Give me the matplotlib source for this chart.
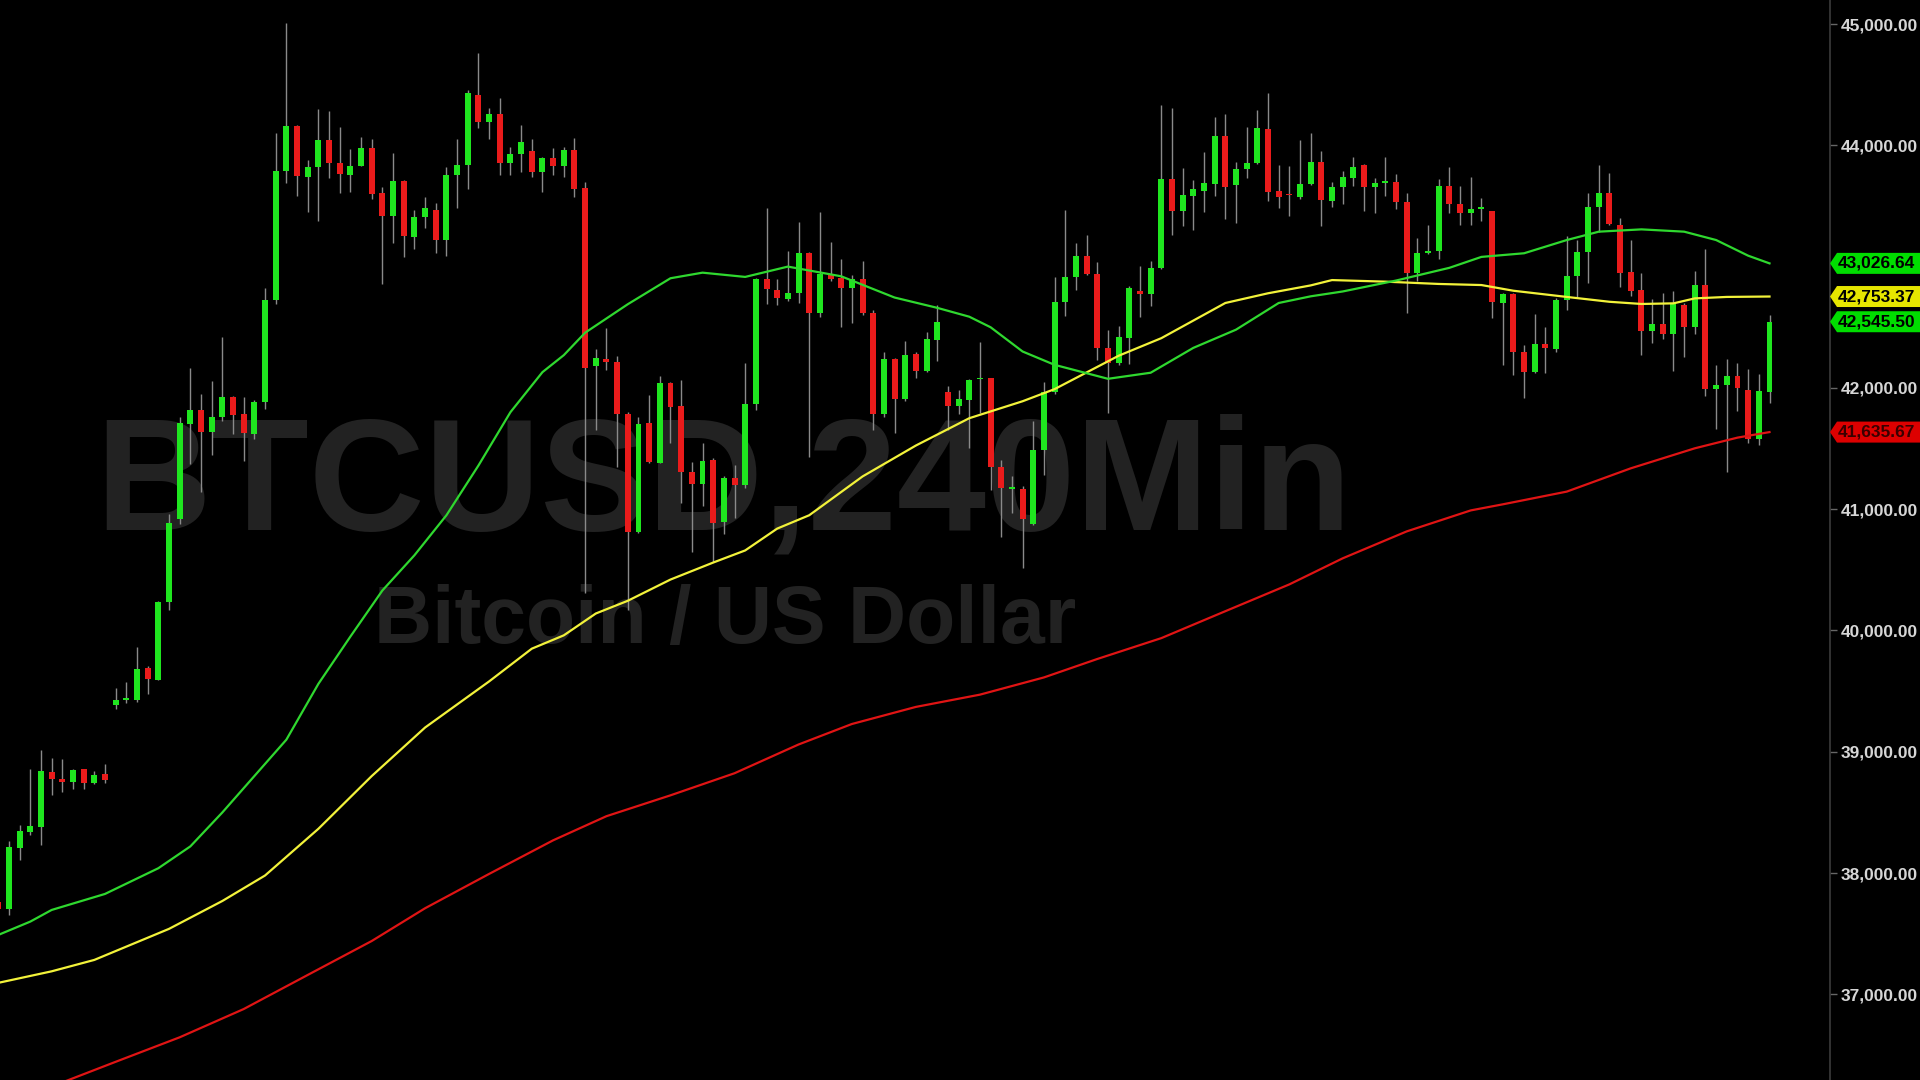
import numpy as np
import matplotlib
matplotlib.use("Agg")
import matplotlib.pyplot as plt
from matplotlib.patches import Polygon
from matplotlib.transforms import blended_transform_factory

# ---------------- data ----------------
first_index = -1  # first (partially visible) candle
opens = [37760, 37702, 38205, 38339, 38383, 38836, 38778, 38751, 38856, 38745,
         38815, 39385, 39430, 39430, 39688, 39592, 40232, 40923, 41705, 41820,
         41640, 41763, 41927, 41787, 41623, 41885, 42725, 43786, 44159, 43741,
         43824, 44044, 43857, 43753, 43832, 43975, 43604, 43417, 43706, 43247,
         43412, 43467, 43219, 43755, 43838, 44415, 44195, 44256, 43857, 43926,
         43953, 43778, 43893, 43832, 43964, 43646, 42183, 42238, 42211, 41782,
         40815, 41708, 41383, 42038, 41853, 41309, 41208, 41406, 40897, 41255,
         41200, 41867, 42898, 42807, 42730, 42780, 43115, 42620, 42936, 42909,
         42824, 42895, 42620, 41782, 42238, 41906, 42279, 42142, 42395, 41969,
         41853, 41900, 42070, 42079, 41350, 41165, 41164, 40878, 41488, 41969,
         42711, 42917, 43087, 42939, 42326, 42208, 42409, 42801, 42775, 42986,
         43722, 43461, 43585, 43623, 43681, 44077, 43670, 43805, 43857, 44134,
         43626, 43590, 43576, 43681, 43860, 43543, 43659, 43733, 43838, 43659,
         43690, 43695, 43535, 42950, 43110, 43129, 43664, 43516, 43439, 43478,
         43458, 42702, 42772, 42300, 42129, 42362, 42318, 42725, 42925, 43118,
         43489, 43604, 43343, 42953, 42807, 42469, 42527, 42442, 42684, 42505,
         42848, 41988, 42024, 42098, 41983, 41576, 41969]
highs = [37790, 38267, 38400, 38858, 39015, 38951, 38941, 38860, 38860, 38842,
         38899, 39524, 39573, 39864, 39710, 40245, 40959, 41763, 42164, 41953,
         42057, 42416, 41935, 41927, 41900, 42824, 44104, 45005, 44165, 43879,
         44297, 44280, 44154, 43967, 44066, 44054, 43659, 43939, 43710, 43463,
         43571, 43527, 43824, 44049, 44453, 44763, 44306, 44393, 43983, 44165,
         44049, 43900, 43975, 43985, 44058, 43700, 42318, 42491, 42265, 41800,
         41763, 41941, 42098, 42045, 42065, 41392, 41549, 41420, 41270, 41364,
         42203, 42910, 43481, 42895, 43129, 43370, 43120, 43448, 43205, 43060,
         42930, 43049, 42640, 42297, 42250, 42389, 42300, 42459, 42683, 42015,
         41983, 42070, 42381, 42085, 41406, 41274, 41191, 41730, 42051, 42912,
         43467, 43192, 43261, 43041, 42477, 42510, 42840, 43008, 43050, 44332,
         44305, 43810, 43714, 43947, 44231, 44258, 43865, 44148, 44288, 44429,
         43838, 43829, 44044, 44099, 43956, 43700, 43791, 43901, 43845, 43730,
         43906, 43760, 43604, 43233, 43343, 43720, 43824, 43664, 43742, 43563,
         43460, 42780, 42785, 42354, 42607, 42505, 42740, 43252, 43219, 43609,
         43838, 43774, 43398, 43219, 42950, 42730, 42780, 42801, 42700, 42966,
         43145, 42189, 42236, 42208, 42153, 42115, 42601]
lows = [37650, 37654, 38108, 38315, 38232, 38641, 38671, 38693, 38690, 38735,
        38740, 39353, 39400, 39407, 39477, 39590, 40167, 40878, 41373, 41144,
        41446, 41729, 41623, 41399, 41581, 41829, 42692, 43687, 43582, 43453,
        43376, 43733, 43607, 43618, 43830, 43555, 42854, 43197, 43077, 43143,
        43316, 43115, 43090, 43481, 43637, 44140, 44049, 43755, 43755, 43782,
        43741, 43618, 43755, 43740, 43571, 40307, 41653, 42150, 41345, 40169,
        40800, 41380, 41380, 41549, 41054, 40645, 41029, 40567, 40793, 40925,
        41176, 41818, 42689, 42685, 42720, 42700, 41433, 42587, 42880, 42505,
        42533, 42600, 41653, 41760, 41631, 41890, 42079, 42130, 42222, 41653,
        41782, 41507, 41793, 41158, 40773, 40966, 40518, 40870, 41282, 41950,
        42593, 42807, 42930, 42230, 41791, 42190, 42194, 42582, 42675, 42980,
        43261, 43337, 43302, 43453, 43582, 43390, 43362, 43728, 43850, 43543,
        43481, 43417, 43560, 43675, 43337, 43491, 43516, 43664, 43458, 43439,
        43582, 43472, 42620, 42884, 43100, 43060, 43439, 43343, 43340, 43376,
        42574, 42189, 42106, 41914, 42120, 42120, 42300, 42642, 42752, 42867,
        43288, 43340, 42829, 42758, 42271, 42373, 42400, 42142, 42252, 42442,
        41933, 41659, 41309, 41812, 41549, 41529, 41873]
closes = [37700, 38218, 38347, 38388, 38845, 38778, 38751, 38850, 38740, 38809,
          38768, 39430, 39433, 39684, 39596, 40238, 40890, 41708, 41820, 41640,
          41763, 41927, 41780, 41627, 41885, 42725, 43785, 44162, 43747, 43824,
          44044, 43852, 43761, 43830, 43978, 43599, 43417, 43706, 43255, 43412,
          43481, 43219, 43755, 43838, 44429, 44195, 44256, 43852, 43928, 44027,
          43782, 43893, 43832, 43964, 43640, 42167, 42244, 42216, 41782, 40815,
          41700, 41387, 42038, 41845, 41304, 41205, 41397, 40889, 41255, 41200,
          41867, 42898, 42813, 42739, 42780, 43110, 42620, 42936, 42895, 42821,
          42895, 42620, 41782, 42238, 41906, 42271, 42142, 42401, 42541, 41853,
          41906, 42065, 42072, 41345, 41172, 41169, 40917, 41488, 41969, 42706,
          42912, 43087, 42939, 42326, 42203, 42417, 42821, 42772, 42986, 43722,
          43458, 43590, 43640, 43687, 44077, 43659, 43802, 43857, 44140, 43618,
          43576, 43588, 43681, 43860, 43549, 43654, 43737, 43818, 43659, 43687,
          43695, 43535, 42950, 43110, 43131, 43664, 43516, 43439, 43472, 43481,
          42711, 42772, 42300, 42135, 42359, 42331, 42725, 42925, 43123, 43489,
          43604, 43351, 42945, 42801, 42469, 42527, 42444, 42692, 42505, 42848,
          41988, 42024, 42098, 41997, 41576, 41975, 42545.50]

# moving averages (at candle positions)
ma_green_x = [-1, 2, 4, 9, 14, 17, 20, 23, 26, 29, 32, 35, 38, 41, 44, 47, 50, 52, 54,
              58, 62, 65, 69, 73, 78, 83, 87, 90, 92, 95, 98, 103, 107, 111, 115,
              119, 122, 125, 130, 135, 138, 142, 146, 149, 153, 157, 160, 163, 165]
ma_green_y = [37490, 37600, 37696, 37828, 38040, 38220, 38500, 38800, 39100, 39560,
              39950, 40330, 40620, 40950, 41360, 41800, 42130, 42270, 42455, 42690,
              42904, 42950, 42915, 43000, 42920, 42745, 42660, 42587, 42500, 42300,
              42190, 42075, 42125, 42330, 42480, 42700, 42755, 42795, 42885, 42990,
              43080, 43110, 43219, 43288, 43307, 43288, 43219, 43090, 43026.64]
ma_yellow_x = [-1, 4, 8, 15, 20, 24, 29, 34, 39, 45, 49, 52, 55, 58, 62, 66, 69, 72,
               75, 80, 85, 90, 95, 98, 104, 108, 114, 118, 122, 124, 129, 134, 138,
               141, 146, 150, 153, 156, 158, 161, 165]
ma_yellow_y = [37095, 37190, 37284, 37540, 37770, 37980, 38365, 38800, 39200, 39580,
               39850, 39960, 40140, 40245, 40420, 40560, 40660, 40840, 40950, 41270,
               41525, 41750, 41890, 41990, 42265, 42410, 42700, 42780, 42845, 42889,
               42876, 42857, 42848, 42801, 42750, 42710, 42692, 42697, 42738, 42750,
               42753.37]
ma_red_x = [4, 10, 16, 22, 28, 34, 39, 45, 51, 56, 62, 68, 74, 79, 85, 91, 97, 102,
            108, 114, 120, 125, 131, 137, 140, 146, 152, 158, 162, 165]
ma_red_y = [36240, 36444, 36646, 36879, 37160, 37440, 37710, 37993, 38270, 38469,
            38641, 38823, 39060, 39229, 39370, 39471, 39613, 39765, 39937, 40159,
            40380, 40595, 40817, 40990, 41040, 41145, 41337, 41502, 41590, 41635.67]

price_ticks = [37000, 38000, 39000, 40000, 41000, 42000, 44000, 45000]
badge_values = [43026.64, 42753.37, 42545.50, 41635.67]
badge_fill = ["#00dd00", "#e6e600", "#00dd00", "#dd0000"]
badge_text_color = ["#000000", "#000000", "#000000", "#3a0000"]
title_text = "BTCUSD,240Min"
subtitle_text = "Bitcoin / US Dollar"

# ---------------- figure ----------------
plt.rcParams["font.family"] = ["Liberation Sans", "DejaVu Sans"]
W, H = 1920, 1080
fig = plt.figure(figsize=(W / 100, H / 100), dpi=100, facecolor="black")
axis_px = 1830
ax = fig.add_axes([0, 0, axis_px / W, 1])
ax.set_facecolor("black")

ymin, ymax = 36294, 45198
ax.set_xlim(-0.84, 170.67)
ax.set_ylim(ymin, ymax)

# watermark
ax.text(724 / W, 1 - 529 / H, title_text, transform=fig.transFigure, fontsize=115.5,
        fontweight="bold", color="#222222", ha="center", va="baseline", zorder=0)
ax.text(725 / W, 1 - 643 / H, subtitle_text, transform=fig.transFigure, fontsize=58,
        fontweight="bold", color="#222222", ha="center", va="baseline", zorder=0)

# candles
o = np.array(opens, float)
h = np.array(highs, float)
l = np.array(lows, float)
c = np.array(closes, float)
x = np.arange(first_index, first_index + len(o))
up = c >= o
ax.vlines(x, l, h, color="#8a8a8a", lw=1.0, zorder=2)
body_bottom = np.minimum(o, c)
body_h = np.maximum(np.abs(c - o), 14)
ax.bar(x[up], body_h[up], bottom=body_bottom[up], width=0.56, color="#1fe61f",
       edgecolor="none", zorder=3)
ax.bar(x[~up], body_h[~up], bottom=body_bottom[~up], width=0.56, color="#ea1b1b",
       edgecolor="none", zorder=3)

# moving averages
ax.plot(ma_red_x, ma_red_y, color="#e01414", lw=1.6, zorder=4)
ax.plot(ma_yellow_x, ma_yellow_y, color="#f2f23a", lw=1.6, zorder=4)
ax.plot(ma_green_x, ma_green_y, color="#2fd82f", lw=1.6, zorder=4)

# axis styling
for s in ["left", "top", "bottom"]:
    ax.spines[s].set_visible(False)
ax.spines["right"].set_color("#3c3c3c")
ax.spines["right"].set_linewidth(1.2)
ax.set_xticks([])
ax.yaxis.tick_right()
ax.set_yticks(price_ticks)
ax.set_yticklabels([f"{v:,.2f}" for v in price_ticks])
ax.tick_params(axis="y", colors="#d6d6d6", length=5, width=1, pad=2.5, labelsize=12.5)
for lab in ax.get_yticklabels():
    lab.set_fontweight("bold")
    lab.set_color("#d6d6d6")
ax.tick_params(axis="y", color="#666666")

# price badges
tr = blended_transform_factory(fig.transFigure, ax.transData)
half = (ymax - ymin) / H * 10.5
x0 = axis_px / W
x1 = (axis_px + 7) / W
for v, fc, tc in zip(badge_values, badge_fill, badge_text_color):
    poly = Polygon([(x0, v), (x1, v + half), (1.0, v + half), (1.0, v - half), (x1, v - half)],
                   closed=True, transform=tr, facecolor=fc, edgecolor="none", zorder=5)
    fig.add_artist(poly)
    fig.text((axis_px + 8) / W, v, f"{v:,.2f}", transform=tr, fontsize=12.5,
             fontweight="bold", color=tc, ha="left", va="center", zorder=6)

fig.savefig("out.png", dpi=100, facecolor="black")
